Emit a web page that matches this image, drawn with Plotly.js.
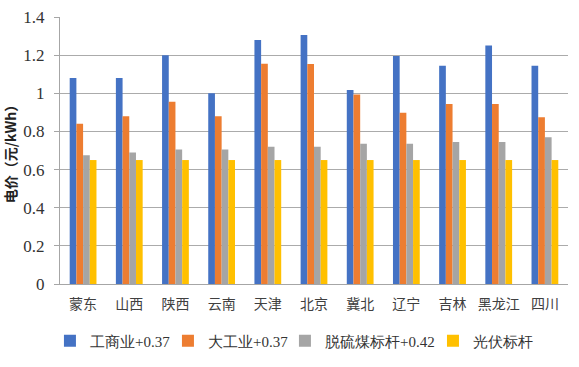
<!DOCTYPE html>
<html><head><meta charset="utf-8">
<script src="https://cdn.plot.ly/plotly-3.0.1.min.js"></script>
<style>html,body{margin:0;padding:0;background:#fff;}#chart{width:579px;height:367px;}</style>
</head><body><div id="chart"></div>
<script>
const regions = ['蒙东','山西','陕西','云南','天津','北京','冀北','辽宁','吉林','黑龙江','四川'];
const commercial = [1.08,1.08,1.20,1.00,1.28,1.305,1.017,1.195,1.145,1.25,1.145];
const industrial = [0.84,0.88,0.955,0.88,1.155,1.153,0.993,0.898,0.944,0.944,0.874];
const coal = [0.675,0.69,0.705,0.705,0.72,0.72,0.736,0.736,0.745,0.745,0.769];
const pv = [0.65,0.65,0.65,0.65,0.65,0.65,0.65,0.65,0.65,0.65,0.65];
const names = ['工商业+0.37','大工业+0.37','脱硫煤标杆+0.42','光伏标杆'];
const colors = ['#4472C4','#ED7D31','#A5A5A5','#FFC000'];
const series = [commercial, industrial, coal, pv];
const serif = 'Liberation Serif';
const legendIds = ['legend','legend2','legend3','legend4'];
const legendX = [-0.0198, 0.2125, 0.4428, 0.7342];
const data = series.map((v,i)=>({type:'bar', x:regions, y:v, name:names[i], marker:{color:colors[i]}, legend:legendIds[i]}));
const layout = {
  width:579, height:367,
  margin:{l:60, r:11, t:17, b:83, autoexpand:false},
  paper_bgcolor:'#fff', plot_bgcolor:'#fff',
  bargap:0.42, bargroupgap:0,
  font:{family:serif, size:13, color:'#333'},
  xaxis:{showline:true, linecolor:'#a6a6a6', linewidth:1, ticks:'', ticklabelstandoff:7,
    tickfont:{size:14, family:'Noto Sans CJK SC', color:'#404040'}, automargin:false},
  yaxis:{range:[0,1.4], tickvals:[0,0.2,0.4,0.6,0.8,1,1.2,1.4], ticktext:['0','0.2','0.4','0.6','0.8','1','1.2','1.4'],
    gridcolor:'#ababab', gridwidth:1, zeroline:false, showline:true, linecolor:'#a6a6a6', linewidth:1,
    ticks:'outside', ticklen:5, tickcolor:'#a6a6a6',
    tickfont:{size:17, family:serif, color:'#333'},
    ticklabelstandoff:6, automargin:false,
    title:{text:'<b>电价（元/kWh）</b>', font:{size:14, family:'Noto Sans CJK SC', color:'#222'}, standoff:12}},
  showlegend:true
};
legendIds.forEach((id,i)=>{
  layout[id] = {orientation:'h', x:legendX[i], xanchor:'left', y:-0.2135, yanchor:'middle',
    font:{size:15, family:serif, color:'#333'}, itemwidth:30, bgcolor:'rgba(0,0,0,0)'};
});
Plotly.newPlot('chart', data, layout, {displayModeBar:false, staticPlot:true});
</script></body></html>
